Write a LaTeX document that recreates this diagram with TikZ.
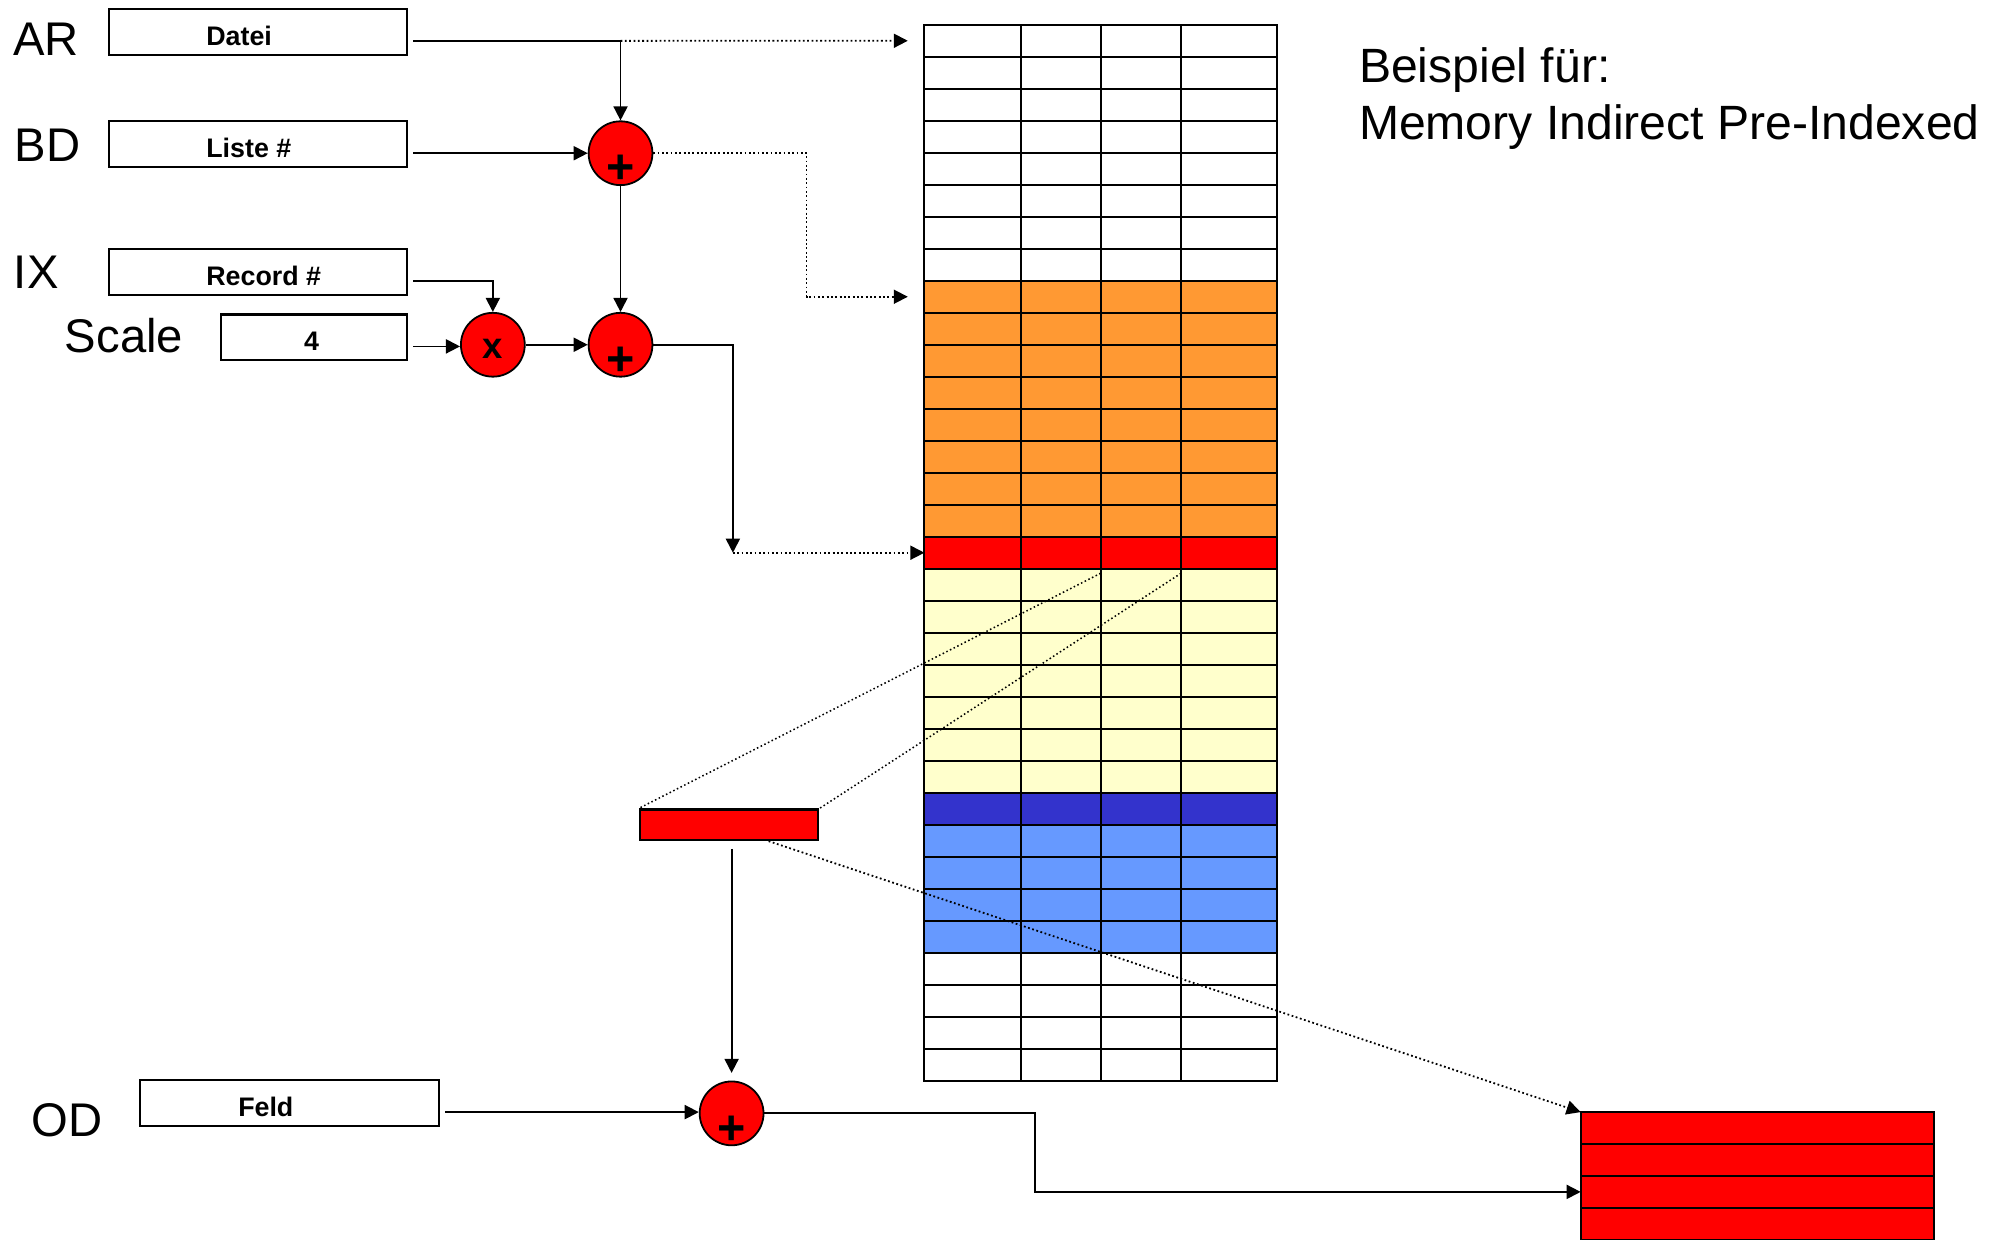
\documentclass[tikz,border=0pt]{standalone}
\usepackage{fontspec}
\setmainfont{Liberation Sans}
\usetikzlibrary{arrows.meta}

\definecolor{memorange}{HTML}{FF9933}
\definecolor{memyellow}{HTML}{FFFFCC}
\definecolor{memdblue}{HTML}{3333CC}
\definecolor{memlblue}{HTML}{6699FF}

\newcommand\opplus{\raisebox{-12pt}[0pt][0pt]{\fontsize{19}{19}\selectfont\bfseries +}}
\newcommand\optimes{\raisebox{-5.3pt}[0pt][0pt]{\fontsize{14.3}{15}\selectfont\bfseries x}}

\tikzset{
	reg/.style={draw, line width=.8pt, minimum width=117pt, minimum height=18pt, inner sep=0pt},
	regval/.style={anchor=west, inner sep=0pt, font=\fontsize{10.5}{12}\selectfont\bfseries},
	regname/.style={anchor=west, inner sep=0pt, font=\fontsize{18.5}{22}\selectfont},
	op/.style={circle, draw, line width=.7pt, fill=red, minimum size=25pt, inner sep=0pt},
	cell/.style={line width=.8pt, line cap=rect},
	wire/.style={line width=.7pt, -{Triangle[length=5.5pt,width=5.5pt]}},
	ptr/.style={wire, densely dotted},
	link/.style={line width=.6pt, densely dotted}
}

\begin{document}
\begin{tikzpicture}[x=.5pt, y=-.5pt]
		\useasboundingbox (0,0) rectangle (1568,971);
		\clip (0,0) rectangle (1568,971);
		
		% memory
		\foreach \a/\n/\c in {0/8/white,8/8/memorange,16/1/red,17/7/memyellow,24/1/memdblue,25/4/memlblue,29/4/white}
			\fill[\c] (724,{19.4+25.06*\a}) rectangle (1000,{19.4+25.06*(\a+\n)});
		\foreach \i in {0,...,33} \draw[cell] (724,19.4+25.06*\i) -- (1000,19.4+25.06*\i);
		\foreach \x in {724,800,862,925,1000} \draw[cell] (\x,19.4) -- (\x,846.4);
		\foreach \i in {0,...,32} \coordinate (m\i) at (724,31.93+25.06*\i);
		\coordinate (hitL) at (862,449); \coordinate (hitR) at (925,449);
		
		\foreach \i in {0,...,4} \draw[cell, fill=red] (1238,871+25*\i) rectangle (1515,896+25*\i);
		\coordinate (res) at (1238,871); \coordinate (resin) at (1238,933.5);
		
		\node[regname, anchor=base west, font=\fontsize{18.85}{22}\selectfont] (title) at (1064,64.5) {Beispiel für:};
		\node[regname, anchor=base west, font=\fontsize{18.85}{22}\selectfont] (subtitle) at (1064,109.5) {Memory Indirect Pre-Indexed};
		
		% registers
		\node[regname] (arN) at (10,30.7) {AR}; \node[reg] (ar) at (202,25) {};
		\node[regval] (arV) at ([xshift=38.5pt,yshift=-1.5pt]ar.west) {Datei};
		\node[regname] (bdN) at (11,113.6) {BD}; \node[reg] (bd) at (202,113) {};
		\node[regval] (bdV) at ([xshift=38.5pt,yshift=-1.5pt]bd.west) {Liste \#};
		\node[regname] (ixN) at (10.5,213.5) {IX}; \node[reg] (ix) at (202,213) {};
		\node[regval] (ixV) at ([xshift=38.5pt,yshift=-1.5pt]ix.west) {Record \#};
		\node[regname] (scN) at (50.5,263) {Scale}; \node[reg, minimum width=73pt] (sc) at (246,264.3) {};
		\node[regval, anchor=center] (scV) at ([xshift=-1pt,yshift=-1.5pt]sc.center) {4};
		\node[regname] (odN) at (24.5,877.5) {OD}; \node[reg] (od) at (227,864) {};
		\node[regval] (odV) at ([xshift=38.5pt,yshift=-1.5pt]od.west) {Feld};
		
		\node[op] (p1) at (486,120) {\opplus};
		\node[op] (mul) at (386,270) {\optimes};
		\node[op] (p2) at (486,270) {\opplus};
		\node[op] (p3) at (573,872) {\opplus};
		\node[draw, line width=.8pt, fill=red, minimum width=70pt, minimum height=12pt, inner sep=0pt] (rec) at (571,646) {};
		
		\coordinate (arout) at ([shift={(2pt,-3.5pt)}]ar.east);
		\coordinate (bdout) at ([shift={(2pt,-3.5pt)}]bd.east);
		\coordinate (ixout) at ([shift={(2pt,-3.5pt)}]ix.east);
		\coordinate (scout) at ([shift={(2pt,-3.5pt)}]sc.east);
		\coordinate (odout) at ([shift={(2pt,-3.5pt)}]od.east);
		\coordinate (drop) at ([xshift=-75pt]m16);
		
		\draw[wire] (arout) -| (p1);
		\draw[ptr] (arout -| p1) -- ([xshift=-6.5pt]m0);
		\draw[wire] (bdout) -- (bdout -| p1.west);
		\draw[ptr] (p1.east) -- ++(120,0) |- ([xshift=-6.5pt]m8);
		\draw[wire] (ixout) -| (mul);
		\draw[wire] (scout) -- (scout -| mul.west);
		\draw[wire] (mul) -- (p2);
		\draw[wire] (p1) -- (p2);
		\draw[wire] (p2.east) -| (drop);
		\draw[ptr] (drop) -- (m16);
		
		\draw[link] (hitL) -- (rec.north west); \draw[link] (hitR) -- (rec.north east);
		\draw[ptr] ([xshift=15.5pt]rec.south) -- (res);
		\draw[wire, shorten >=3pt] ([yshift=-3pt]rec.south -| p3) -- (p3);
		\draw[wire] (odout) -- (odout -| p3.west);
		\draw[wire] (p3.east) -- ++(212,0) |- (resin);
\end{tikzpicture}
\end{document}
